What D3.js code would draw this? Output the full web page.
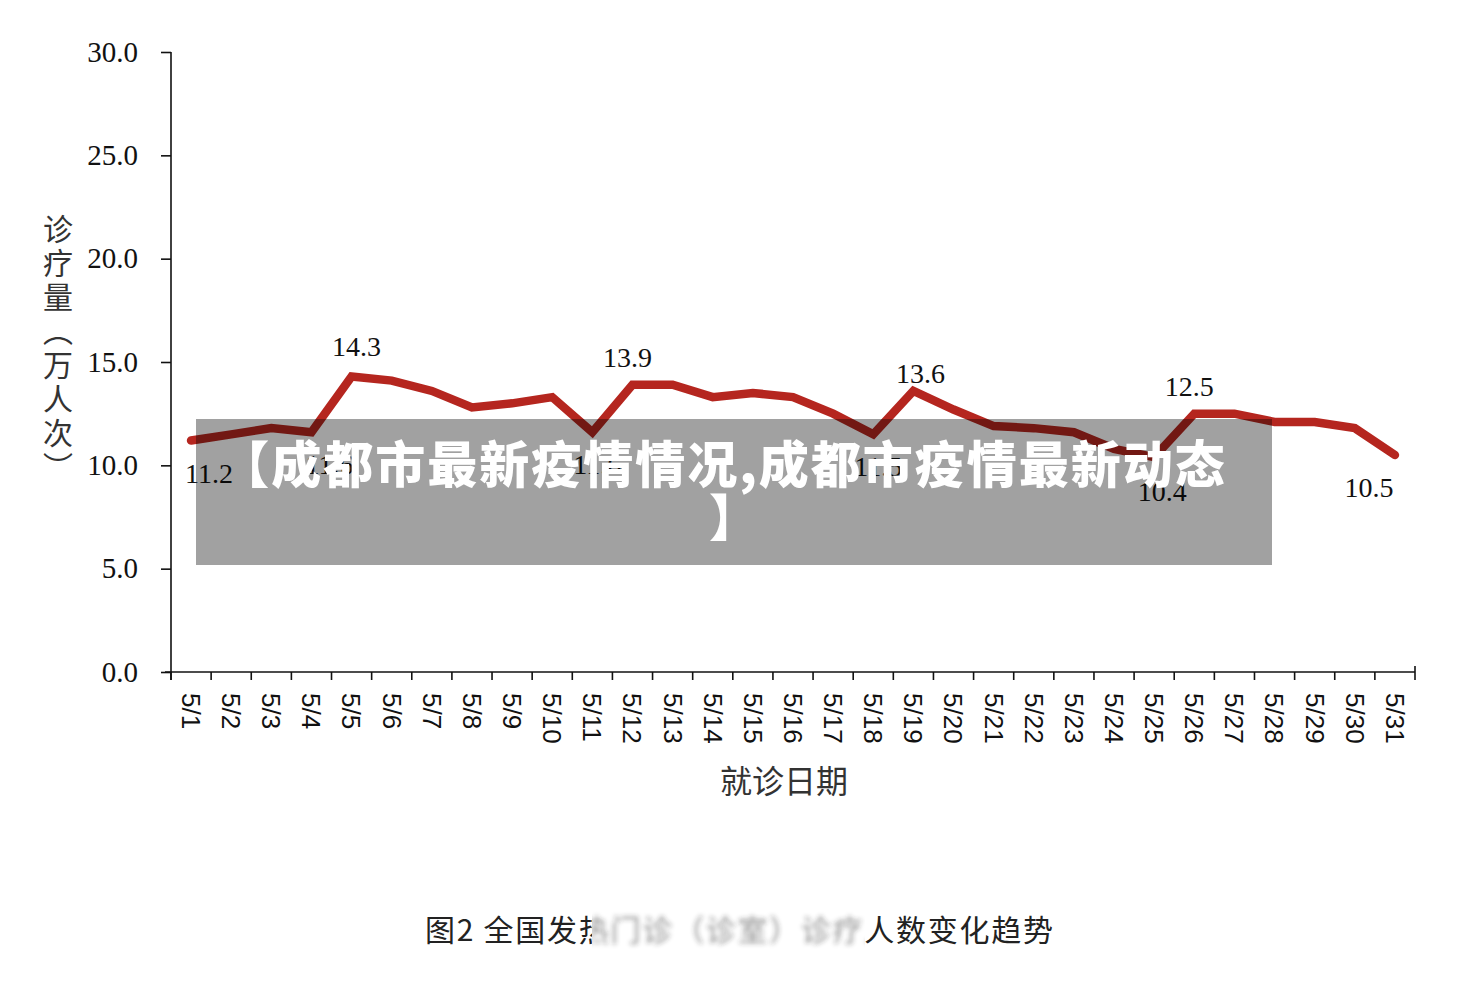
<html>
<head>
<meta charset="utf-8">
<script src="https://d3js.org/d3.v7.min.js"></script>
<style>
  body { margin: 0; background: #fff; }
</style>
</head>
<body>
<svg id="chart" width="1468" height="984"></svg>
<script>
  // data
  var days = ["5/1","5/2","5/3","5/4","5/5","5/6","5/7","5/8","5/9","5/10",
              "5/11","5/12","5/13","5/14","5/15","5/16","5/17","5/18","5/19","5/20",
              "5/21","5/22","5/23","5/24","5/25","5/26","5/27","5/28","5/29","5/30","5/31"];
  var visits = [11.2, 11.5, 11.8, 11.6, 14.3, 14.1, 13.6, 12.8, 13.0, 13.3,
                11.6, 13.9, 13.9, 13.3, 13.5, 13.3, 12.5, 11.5, 13.6, 12.7,
                11.9, 11.8, 11.6, 10.8, 10.4, 12.5, 12.5, 12.1, 12.1, 11.8, 10.5];
  var yTicks = [0, 5, 10, 15, 20, 25, 30];
  // which points carry a value label, and whether it sits above or below
  var labelsAbove = ["5/5", "5/12", "5/19", "5/26"];
  var labelsBelow = ["5/1", "5/4", "5/11", "5/18", "5/25", "5/31"];
  var yTitle = "诊疗量（万人次）";
  var xTitle = "就诊日期";
  var caption = "图2 全国发热门诊（诊室）诊疗人数变化趋势";
  var banner = ["【成都市最新疫情情况,成都市疫情最新动态", "】"];

  var data = days.map(function(d, i) { return { day: d, value: visits[i] }; });

  var svg = d3.select("#chart");
  svg.append("rect").attr("width", 1468).attr("height", 984).attr("fill", "#fff");

  var plotLeft = 171, plotRight = 1415, plotTop = 52, plotBottom = 672;
  // small hand nudges of the value labels, as placed in the original
  var labelNudge = { "5/5": [5, 0], "5/12": [-5, 2], "5/19": [7, 12], "5/26": [-5, 2],
                     "5/1": [18, 0], "5/4": [18, 0], "5/11": [5, 0], "5/18": [5, 0],
                     "5/25": [8, 2], "5/31": [-26, 0] };

  var x = d3.scaleBand().domain(days).range([plotLeft, plotRight]);
  var y = d3.scaleLinear().domain([0, 30]).range([plotBottom, plotTop]);

  // y axis
  var yAxis = svg.append("g")
    .attr("transform", "translate(" + plotLeft + ",0)")
    .call(d3.axisLeft(y).tickValues(yTicks).tickSize(10).tickSizeOuter(0)
      .tickFormat(d3.format(".1f")));
  yAxis.select(".domain").attr("stroke", "#111").attr("stroke-width", 1.6)
    .attr("d", "M0," + plotTop + "V" + (plotBottom + 8));
  yAxis.selectAll(".tick line").attr("stroke", "#111").attr("stroke-width", 1.6);
  yAxis.selectAll(".tick text")
    .attr("x", -33)
    .attr("font-family", "Liberation Serif")
    .attr("font-size", 29)
    .attr("fill", "#111");

  // x axis: labels from the band scale, ticks on the band edges
  var xAxis = svg.append("g")
    .attr("transform", "translate(0," + plotBottom + ")")
    .call(d3.axisBottom(x).tickSize(0).tickSizeOuter(0));
  xAxis.select(".domain").attr("stroke", "#111").attr("stroke-width", 1.6)
    .attr("d", "M" + (plotLeft - 6) + ",0H" + plotRight);
  xAxis.selectAll(".tick text")
    .attr("transform", "rotate(90)")
    .attr("x", 21)
    .attr("y", 0)
    .attr("dy", "0.35em")
    .attr("text-anchor", "start")
    .attr("font-family", "Liberation Sans")
    .attr("font-size", 26)
    .attr("fill", "#111");
  xAxis.selectAll(".edge")
    .data(days)
    .enter().append("line")
    .attr("x1", function(d) { return x(d); })
    .attr("x2", function(d) { return x(d); })
    .attr("y1", 0).attr("y2", 8)
    .attr("stroke", "#111").attr("stroke-width", 1.6);
  xAxis.append("line")
    .attr("x1", plotRight).attr("x2", plotRight).attr("y1", -6).attr("y2", 8)
    .attr("stroke", "#111").attr("stroke-width", 1.6);

  // axis titles
  svg.append("text")
    .attr("x", 58).attr("y", 214)
    .attr("font-family", "Noto Sans CJK SC")
    .attr("font-size", 30)
    .attr("letter-spacing", 4)
    .attr("fill", "#333")
    .style("writing-mode", "vertical-rl")
    .text(yTitle);

  svg.append("text")
    .attr("x", 784).attr("y", 793)
    .attr("text-anchor", "middle")
    .attr("font-family", "Noto Sans CJK SC")
    .attr("font-size", 32)
    .attr("fill", "#333")
    .text(xTitle);

  // the line
  var cx = function(d) { return x(d.day) + x.bandwidth() / 2; };
  svg.append("path")
    .datum(data)
    .attr("fill", "none")
    .attr("stroke", "#b5261f")
    .attr("stroke-width", 8.5)
    .attr("stroke-linecap", "round")
    .attr("stroke-linejoin", "miter")
    .attr("d", d3.line().x(cx).y(function(d) { return y(d.value); }));

  // value labels
  svg.selectAll(".vlabel")
    .data(data.filter(function(d) { return labelNudge[d.day]; }))
    .enter().append("text")
    .attr("x", function(d) { return cx(d) + labelNudge[d.day][0]; })
    .attr("y", function(d) {
      var base = labelsAbove.indexOf(d.day) >= 0 ? y(d.value) - 20 : y(d.value) + 42;
      return base + labelNudge[d.day][1];
    })
    .attr("text-anchor", "middle")
    .attr("font-family", "Liberation Serif")
    .attr("font-size", 28)
    .attr("fill", "#111")
    .text(function(d) { return d3.format(".1f")(d.value); });

  // banner over the chart
  svg.append("rect")
    .attr("x", 196).attr("y", 419).attr("width", 1076).attr("height", 146)
    .attr("fill", "#000").attr("fill-opacity", 0.37);
  svg.selectAll(".banner")
    .data(banner)
    .enter().append("text")
    .attr("x", function(d, i) { return i === 0 ? 723 : 734; })
    .attr("y", function(d, i) { return 483 + i * 53; })
    .attr("text-anchor", "middle")
    .attr("font-family", "Noto Sans CJK SC")
    .attr("font-weight", 900)
    .attr("font-size", 50)
    .attr("letter-spacing", function(d, i) { return i === 0 ? 2 : 0; })
    .attr("fill", "#fff")
    .text(function(d) { return d; });

  // caption, middle part blurred as in the picture
  var defs = svg.append("defs");
  defs.append("filter").attr("id", "blur")
    .attr("x", "-5%").attr("y", "-50%").attr("width", "110%").attr("height", "200%")
    .append("feGaussianBlur").attr("stdDeviation", 2.5);
  defs.append("clipPath").attr("id", "sharp")
    .append("path").attr("d", "M0,880H592V984H0Z M865,880H1468V984H865Z");
  defs.append("clipPath").attr("id", "soft")
    .append("rect").attr("x", 592).attr("y", 880).attr("width", 273).attr("height", 104);

  function captionText(g) {
    g.append("text")
      .attr("x", 425).attr("y", 941)
      .attr("textLength", 628)
      .attr("font-family", "Noto Sans CJK SC")
      .attr("font-size", 30)
      .attr("fill", "#222")
      .text(caption);
  }
  svg.append("g").attr("clip-path", "url(#sharp)").call(captionText);
  svg.append("g").attr("clip-path", "url(#soft)")
    .append("g").attr("filter", "url(#blur)").attr("opacity", 0.5).call(captionText);
</script>
</body>
</html>
